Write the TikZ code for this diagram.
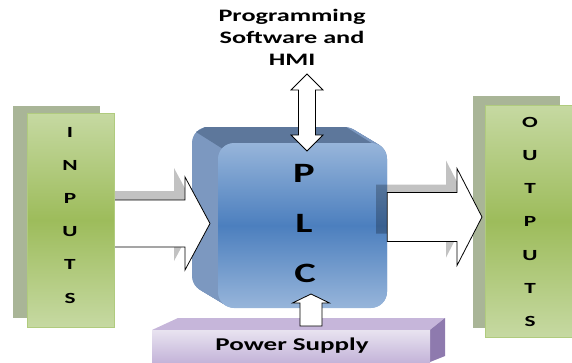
\documentclass[tikz,border=0pt]{standalone}
\usepackage{fontspec}
\setmainfont{Carlito}
\usetikzlibrary{calc}
\definecolor{boxshade}{HTML}{A9B597}
\definecolor{boxlight}{HTML}{C6D9A2}
\definecolor{boxmid}{HTML}{9DBC5B}
\definecolor{boxline}{HTML}{B0CB7E}
\definecolor{plcside}{HTML}{7C98C0}
\definecolor{plctop}{HTML}{5D779B}
\definecolor{plclight}{HTML}{97B5DA}
\definecolor{plcmid}{HTML}{4C7FBE}
\definecolor{pstop}{HTML}{C6B6DA}
\definecolor{pslight}{HTML}{E8E3F0}
\definecolor{psmid}{HTML}{C4B4D9}
\definecolor{psside}{HTML}{8E7AAE}
\tikzset{l/.style={font=\bfseries\fontsize{17.5}{22}\selectfont, xscale=1.5, align=center}}
\tikzset{m/.style={font=\bfseries\fontsize{15.5}{15.5}\selectfont, xscale=1.5}}
\tikzset{big/.style={font=\bfseries\fontsize{28}{28}\selectfont, xscale=1.45}}
\tikzset{armshadow/.style={fill=black, fill opacity=.24}}
\tikzset{barrow/.style={draw=black, fill=white, line width=.8pt}}
\tikzset{iobox/.style={draw=boxline, line width=.8pt, top color=boxlight, bottom color=boxlight, middle color=boxmid}}
\tikzset{ioback/.style={fill=boxshade}}
% block arrow pointing right: start, tip, shaft half width, head half width
\newcommand{\rarrow}[5][]{\path[#1] let \p1=(#2), \p2=(#3) in
  (\x1,\y2+#4pt) -- (\x2-25pt,\y2+#4pt) -- (\x2-25pt,\y2+#5pt) -- (\x2,\y2)
  -- (\x2-25pt,\y2-#5pt) -- (\x2-25pt,\y2-#4pt) -- (\x1,\y2-#4pt) -- cycle;}

\begin{document}
\begin{tikzpicture}[x=1pt,y=-1pt]
  \useasboundingbox (0,0) rectangle (572,362);

  % PLC block
  \foreach \k in {0,...,26}
    \fill[plcside, rounded corners=16] (192+\k,127+0.6*\k) rectangle ++(169,165);
  \fill[plctop] (196,132) -- (205,127) -- (346,127) -- (381,149) -- (223,149) -- cycle;
  \node[minimum width=169, minimum height=165, rounded corners=16, top color=plclight,
    bottom color=plclight, middle color=plcmid] (plc) at (302.5,225.5) {};
  \node[big] (p) at (304,173) {P};
  \node[big] (l) at (304,223) {L};
  \node[big] (c) at (305,273) {C};

  % power supply
  \fill[pstop] (152,330) -- (178,318) -- (445,318) -- (430,330) -- cycle;
  \fill[psside] (430,330) -- (445,318) -- (445,356) -- (430,362) -- cycle;
  \node[anchor=north west, minimum width=278, minimum height=32, inner sep=0,
    top color=pslight, bottom color=psmid] (ps) at (152,330) {};
  \node[l, font=\bfseries\fontsize{18}{18}\selectfont, anchor=base] (pstext) at (292,350) {Power Supply};

  % programming label
  \node[l] (hmi) at (292,37) {Programming\\Software and\\HMI};
  \coordinate (hmitip) at (307,74);
  \coordinate (plcin) at (307,151);
  \path[barrow] let \p1=(hmitip), \p2=(plcin) in
    (\x1,\y1) -- (\x1+16pt,\y1-16pt) -- (\x1+8.5pt,\y1-16pt) -- (\x1+8.5pt,\y2+16pt)
    -- (\x1+16pt,\y2+16pt) -- (\x1,\y2) -- (\x1-16pt,\y2+16pt) -- (\x1-8.5pt,\y2+16pt)
    -- (\x1-8.5pt,\y1-16pt) -- (\x1-16pt,\y1-16pt) -- cycle;

  % supply arrow
  \coordinate (pstip) at (311,294);
  \coordinate (psbase) at (311,326);
  \path[barrow] let \p1=(pstip), \p2=(psbase) in
    (\x1,\y1) -- (\x1+18.5pt,\y1-9pt) -- (\x1+11pt,\y1-9pt) -- (\x1+11pt,\y2)
    -- (\x1-11pt,\y2) -- (\x1-11pt,\y1-9pt) -- (\x1-18.5pt,\y1-9pt) -- cycle;

  % inputs
  \coordinate (instart) at (114,223.5);
  \coordinate (intip) at (210,223.5);
  \rarrow[armshadow]{$(instart)+(-11,-9)$}{$(intip)+(-11,-9)$}{23.5}{46.5}
  \rarrow[barrow]{instart}{intip}{23.5}{46.5}
  \node[ioback, minimum width=87, minimum height=212] (inback) at (56.5,212) {};
  \node[iobox, minimum width=87, minimum height=214] (inputs) at (70.5,220) {};
  \foreach \t [count=\i from 0] in {I,N,P,U,T,S}
    \node[m] (in\i) at (70,132+33.2*\i) {\t};

  % outputs
  \node[ioback, minimum width=87, minimum height=232] (outback) at (516.5,212) {};
  \node[iobox, minimum width=88, minimum height=232] (outputs) at (529,221) {};
  \foreach \t [count=\i from 0] in {O,U,T,P,U,T,S}
    \node[m] (out\i) at (530,122+33.3*\i) {\t};
  \coordinate (outtip) at (482,217);
  \rarrow[armshadow]{$(plc.east)+(-11,0)$}{$(outtip)+(-11,-8)$}{24.5}{48.5}
  \rarrow[barrow]{plc.east}{outtip}{24.5}{48.5}
\end{tikzpicture}
\end{document}
